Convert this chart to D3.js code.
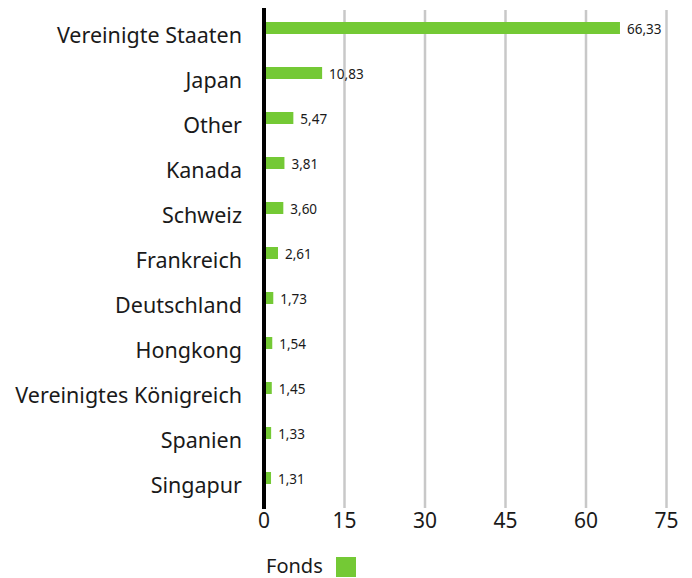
<!DOCTYPE html>
<html>
<head>
<meta charset="utf-8">
<script src="https://cdn.jsdelivr.net/npm/d3@7"></script>
<style>
  body { margin: 0; background: #fff; }
  text { font-family: "Noto Sans", sans-serif; fill: #1a1a1a; }
</style>
</head>
<body>
<div class="chart"></div>
<script>
const countries = ["Vereinigte Staaten", "Japan", "Other", "Kanada", "Schweiz", "Frankreich",
    "Deutschland", "Hongkong", "Vereinigtes Königreich", "Spanien", "Singapur"]
const fondsValues = [66.33, 10.83, 5.47, 3.81, 3.60, 2.61, 1.73, 1.54, 1.45, 1.33, 1.31]
const xTicks = [0, 15, 30, 45, 60, 75]
const seriesName = "Fonds"

const width = 692
const height = 578
const barColor = "#74c935"

const svg = d3.select(".chart").append("svg")
    .attr("width", width)
    .attr("height", height)

const xScale = d3.scaleLinear()
    .domain([0, 75])
    .range([264, 666.5])

const yScale = d3.scaleBand()
    .domain(countries)
    .range([5.5, 500.5])

// gridlines
svg.append("g")
    .selectAll("line")
    .data(xTicks.filter(d => d > 0))
    .enter()
    .append("line")
    .attr("x1", d => xScale(d))
    .attr("x2", d => xScale(d))
    .attr("y1", 10)
    .attr("y2", 508)
    .attr("stroke", "#c8c8c8")
    .attr("stroke-width", 2.5)

// tick labels
svg.append("g")
    .selectAll("text")
    .data(xTicks)
    .enter()
    .append("text")
    .attr("x", d => xScale(d))
    .attr("y", 528)
    .attr("text-anchor", "middle")
    .style("font-size", "21px")
    .text(d => d)

// bars
const rows = svg.append("g")
    .selectAll("g")
    .data(countries.map((c, i) => ({ name: c, value: fondsValues[i] })))
    .enter()
    .append("g")

rows.append("rect")
    .attr("x", xScale(0))
    .attr("y", d => yScale(d.name) + yScale.bandwidth() / 2 - 6)
    .attr("width", d => xScale(d.value) - xScale(0))
    .attr("height", 12)
    .attr("fill", barColor)

rows.append("text")
    .attr("x", d => xScale(d.value) + 7)
    .attr("y", d => yScale(d.name) + yScale.bandwidth() / 2 + 6)
    .style("font-size", "13.5px")
    .text(d => d3.format(".2f")(d.value).replace(".", ","))

rows.append("text")
    .attr("x", 242)
    .attr("y", d => yScale(d.name) + yScale.bandwidth() / 2 + 14.5)
    .attr("text-anchor", "end")
    .style("font-size", "21.5px")
    .text(d => d.name)

// zero line
svg.append("line")
    .attr("x1", xScale(0))
    .attr("x2", xScale(0))
    .attr("y1", 8)
    .attr("y2", 509)
    .attr("stroke", "#000")
    .attr("stroke-width", 4)

// legend
svg.append("text")
    .attr("x", 266)
    .attr("y", 573)
    .style("font-size", "20px")
    .text(seriesName)

svg.append("rect")
    .attr("x", 336)
    .attr("y", 557)
    .attr("width", 20)
    .attr("height", 20)
    .attr("fill", barColor)
</script>
</body>
</html>
